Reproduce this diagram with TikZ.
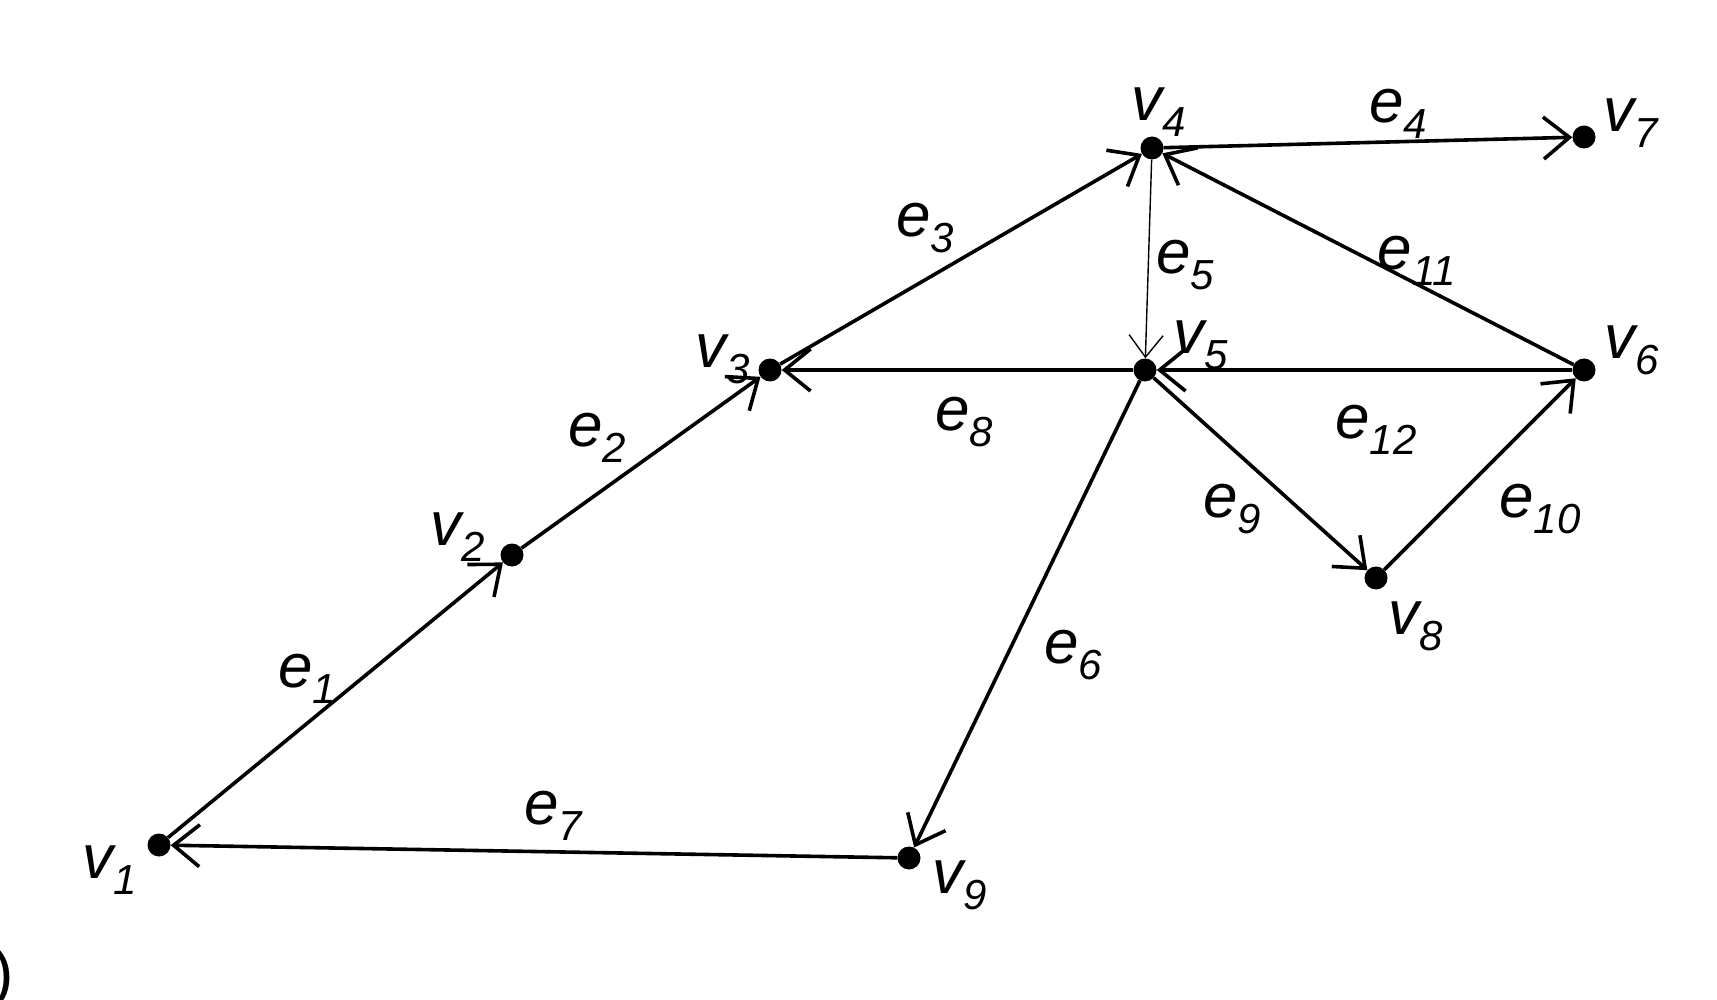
\documentclass[tikz,border=0pt]{standalone}
\usepackage{fontspec}
\setmainfont{Liberation Sans}
\usetikzlibrary{arrows.meta}
\newcommand{\glab}[2]{#1\raisebox{-16pt}{\fontsize{42}{44}\selectfont #2}}
\begin{document}
\begin{tikzpicture}[x=1pt,y=-1pt,
  vtx/.style={circle,fill=black,inner sep=0pt,minimum size=23pt},
  lbl/.style={inner sep=0pt,font=\fontsize{62}{70}\selectfont\itshape},
  edge/.style={line width=3.6pt,-{Straight Barb[length=26pt,width=42pt]}},
  thinedge/.style={line width=1.4pt,-{Straight Barb[length=22pt,width=34pt]}}]
\useasboundingbox (0,0) rectangle (1717,1000);
\node[vtx] (v1) at (159,845) {};
\node[vtx] (v2) at (512,555) {};
\node[vtx] (v3) at (770,370) {};
\node[vtx] (v4) at (1152,148) {};
\node[vtx] (v5) at (1145,370) {};
\node[vtx] (v6) at (1584,370) {};
\node[vtx] (v7) at (1584,137) {};
\node[vtx] (v8) at (1376,578) {};
\node[vtx] (v9) at (909,858) {};
% vertex labels
\node[lbl] (lv1) at (110,870) {\glab{v}{1}};
\node[lbl] (lv2) at (458,537) {\glab{v}{2}};
\node[lbl] (lv3) at (723,359) {\glab{v}{3}};
\node[lbl] (lv4) at (1159,112) {\glab{v}{4}};
\node[lbl] (lv5) at (1201,345) {\glab{v}{5}};
\node[lbl] (lv6) at (1632,350) {\glab{v}{6}};
\node[lbl] (lv7) at (1631,123) {\glab{v}{7}};
\node[lbl] (lv8) at (1416,626) {\glab{v}{8}};
\node[lbl] (lv9) at (960,885) {\glab{v}{9}};
% edge labels
\node[lbl] (le1) at (307,679) {\glab{e}{1}};
\node[lbl] (le2) at (597,438) {\glab{e}{2}};
\node[lbl] (le3) at (925,228) {\glab{e}{3}};
\node[lbl] (le4) at (1398,114) {\glab{e}{4}};
\node[lbl] (le5) at (1185,265) {\glab{e}{5}};
\node[lbl] (le6) at (1073,655) {\glab{e}{6}};
\node[lbl] (le7) at (553,816) {\glab{e}{7}};
\node[lbl] (le8) at (964,422) {\glab{e}{8}};
\node[lbl] (le9) at (1232,509) {\glab{e}{9}};
\node[lbl] (le10) at (1540,509) {\glab{e}{10}};
\node[lbl] (le11) at (1417,261) {\glab{e}{11}};
\node[lbl] (le12) at (1376,430) {\glab{e}{12}};
\node[inner sep=0pt,anchor=east,font=\fontsize{64}{70}\selectfont] (paren) at (14,978) {)};
% edges
\draw[edge] (v1) -- (v2);
\draw[edge] (v2) -- (v3);
\draw[edge] (v3) -- (v4);
\draw[edge] (v4) -- (v7);
\draw[thinedge] (v4) -- (v5);
\draw[edge] (v5) -- (v9);
\draw[edge] (v9) -- (v1);
\draw[edge] (v5) -- (v3);
\draw[edge] (v5) -- (v8);
\draw[edge] (v8) -- (v6);
\draw[edge] (v6) -- (v4);
\draw[edge] (v6) -- (v5);
\end{tikzpicture}
\end{document}
